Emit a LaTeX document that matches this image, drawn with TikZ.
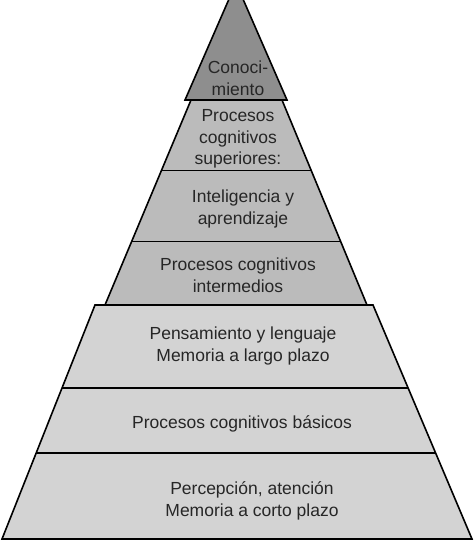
\documentclass[tikz,border=0pt]{standalone}
\usepackage{fontspec}
\setmainfont{Liberation Sans}
\usetikzlibrary{calc}
\definecolor{toptone}{HTML}{8E8E8E}
\definecolor{midtone}{HTML}{BBBBBB}
\definecolor{lowtone}{HTML}{D3D3D3}
\begin{document}
\begin{tikzpicture}[x=1pt,y=-1pt,
  lab/.style={align=center, font=\fontsize{17.5}{21.5}\selectfont, text=black!85, inner sep=0pt},
  tier/.style={draw=black, line width=1.6pt, line join=miter},
  sep/.style={draw=black, line width=1.4pt}]
\useasboundingbox (0,0) rectangle (474,542);
% lower section
\coordinate (LTL) at (95,305);
\coordinate (LTR) at (373,305);
\coordinate (LBR) at (472,539);
\coordinate (LBL) at (2,539);
% upper section
\coordinate (UTL) at (191,100);
\coordinate (UTR) at (282,100);
\coordinate (UBR) at (367,305);
\coordinate (UBL) at (105,305);
% top triangle
\coordinate (TL) at (185,100);
\coordinate (TR) at (287,100);
\coordinate (TA) at (236,-17);
\begin{scope}
\clip (0,0) rectangle (474,542);
\filldraw[tier, fill=midtone] (UTL) -- (UTR) -- (UBR) -- (UBL) -- cycle;
\draw[sep] ($(UTL)!0.343!(UBL)$) -- ($(UTR)!0.343!(UBR)$);
\draw[sep] ($(UTL)!0.69!(UBL)$) -- ($(UTR)!0.69!(UBR)$);
\filldraw[tier, fill=lowtone] (LTL) -- (LTR) -- (LBR) -- (LBL) -- cycle;
\draw[sep] ($(LTL)!0.355!(LBL)$) -- ($(LTR)!0.355!(LBR)$);
\draw[sep] ($(LTL)!0.632!(LBL)$) -- ($(LTR)!0.632!(LBR)$);
\draw[line width=2.2pt] (LBL) -- (LBR);
\filldraw[tier, fill=toptone] (TL) -- (TA) -- (TR) -- cycle;
\end{scope}
\node[lab] (conocimiento) at (238,78) {Conoci-\\miento};
\node[lab] (superiores) at (238,139) {Procesos\\cognitivos\\superiores:};
\node[lab] (inteligencia) at (243,209) {Inteligencia y\\aprendizaje};
\node[lab] (intermedios) at (238,275) {Procesos cognitivos\\intermedios};
\node[lab] (pensamiento) at (243,346) {Pensamiento y lenguaje\\Memoria a largo plazo};
\node[lab] (basicos) at (242,424) {Procesos cognitivos básicos};
\node[lab] (percepcion) at (252,501) {Percepción, atención\\Memoria a corto plazo};
\end{tikzpicture}
\end{document}
